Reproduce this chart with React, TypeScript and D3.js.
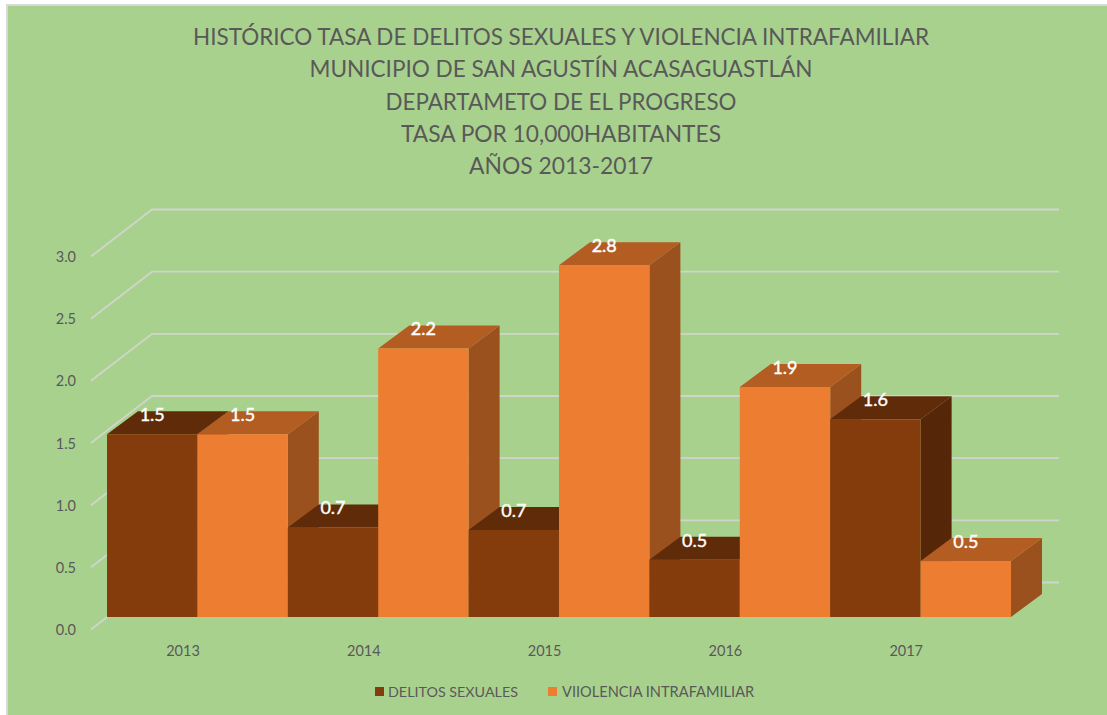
import React from 'react';
import { scaleBand, scaleLinear, format, path } from 'd3';

const years = ['2013', '2014', '2015', '2016', '2017'];
const delitos = [1.47, 0.72, 0.7, 0.46, 1.59];
const violencia = [1.47, 2.16, 2.83, 1.85, 0.45];
const ticks = [0, 0.5, 1, 1.5, 2, 2.5, 3];
const titleLines = [
  'HISTÓRICO TASA DE DELITOS SEXUALES Y VIOLENCIA INTRAFAMILIAR',
  'MUNICIPIO DE SAN AGUSTÍN ACASAGUASTLÁN',
  'DEPARTAMETO DE EL PROGRESO',
  'TASA POR 10,000HABITANTES',
  'AÑOS 2013-2017',
];
// Lato runs wider than the original font, so each line is fitted
const titleWidth = [736, 503, 351, 320, 184];
const titleY = [45, 77, 110, 142, 174];

const FONT = 'Lato, "Open Sans", sans-serif';
const GREY = '#595959';
const GRID = '#D0D5CB';

const series = [
  { name: 'DELITOS SEXUALES', values: delitos, front: '#843C0C', top: '#5F2B08', side: '#552608' },
  { name: 'VIIOLENCIA INTRAFAMILIAR', values: violencia, front: '#ED7D31', top: '#B35D22', side: '#9A511E' },
];

// front face of the bars, the back wall is offset from it
const y = scaleLinear().domain([0, 3]).range([617, 244]);
const x = scaleBand<string>().domain(years).range([107, 1011]);
const inner = scaleBand<number>().domain([0, 1]).range([0, x.bandwidth()]);
const barDepth = { x: 31, y: -23 };
const wall = { x: 45, y: -34.5 };
const tickOut = { x: -16, y: 12.5 };
const gridEnd = 1059;

const poly = (pts: number[][]) => {
  const p = path();
  pts.forEach((d, i) => (i ? p.lineTo(d[0], d[1]) : p.moveTo(d[0], d[1])));
  p.closePath();
  return p.toString();
};

const App = () => {
  const bars = years.flatMap((yr, i) => series.map((s, j) => ({ yr, s, j, v: s.values[i], x0: x(yr)! + inner(j)! })));

  return (
    <svg width={1107} height={715} style={{ position: 'absolute', left: 0, top: 0, fontFamily: FONT }}>
      <rect x={7} y={5} width={1105} height={715} fill="#A9D18E" stroke="#D9D9D9" strokeWidth={2} />
      {titleLines.map((t, i) => (
        <text key={t} x={561} y={titleY[i]} textAnchor="middle" fontSize={23.5} fill={GREY}
          textLength={titleWidth[i]} lengthAdjust="spacingAndGlyphs">{t}</text>
      ))}

      {ticks.map(t => {
        const fx = x.range()[0];
        const fy = y(t);
        return (
          <g key={t}>
            <polyline
              points={[[fx + tickOut.x, fy + tickOut.y], [fx + wall.x, fy + wall.y], [gridEnd, fy + wall.y]].join(' ')}
              fill="none" stroke={GRID} strokeWidth={1.8}
            />
            <text x={76} y={fy + 18} textAnchor="end" fontSize={14.5} fill={GREY}>{format('.1f')(t)}</text>
          </g>
        );
      })}

      {bars.map(({ yr, s, j, v, x0 }) => {
        const w = inner.bandwidth();
        const top = y(v);
        const base = y(0);
        const d = barDepth;
        return (
          <g key={yr + j}>
            <path d={poly([[x0 + w, top], [x0 + w + d.x, top + d.y], [x0 + w + d.x, base + d.y], [x0 + w, base]])} fill={s.side} />
            <path d={poly([[x0, top], [x0 + d.x, top + d.y], [x0 + w + d.x, top + d.y], [x0 + w, top]])} fill={s.top} />
            <rect x={x0} y={top} width={w} height={base - top} fill={s.front} />
          </g>
        );
      })}

      {bars.map(({ yr, j, v, x0 }) => (
        <text key={yr + j} x={x0 + inner.bandwidth() / 2} y={y(v) - 13} textAnchor="middle" fontSize={18}
          fill="#fff" stroke="#fff" strokeWidth={0.4}>
          {format('.1f')(v)}
        </text>
      ))}

      {years.map(yr => (
        <text key={yr} x={x(yr)! + 76} y={656} textAnchor="middle" fontSize={14.5} fill={GREY}>{yr}</text>
      ))}

      <rect x={375} y={687} width={9} height={9} fill={series[0].front} />
      <text x={388} y={697} fontSize={14.3} fill={GREY}>{series[0].name}</text>
      <rect x={548} y={687} width={9} height={9} fill={series[1].front} />
      <text x={562} y={697} fontSize={14.6} fill={GREY}>{series[1].name}</text>
    </svg>
  );
};

export default App;
